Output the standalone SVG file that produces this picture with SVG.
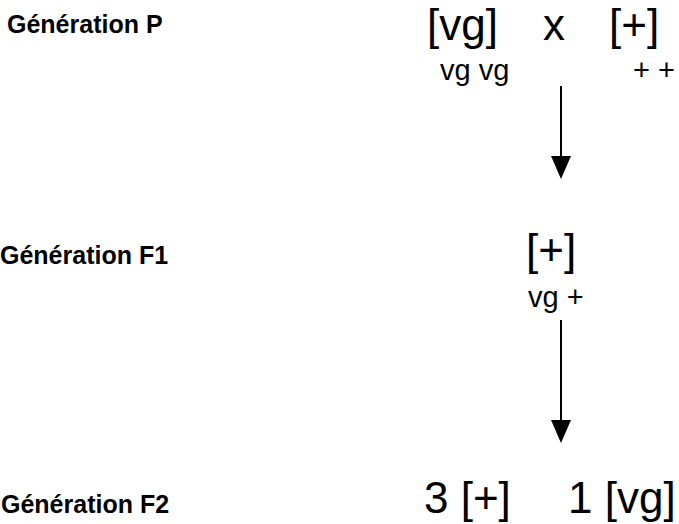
<svg xmlns="http://www.w3.org/2000/svg" width="679" height="524" viewBox="0 0 679 524">
<style>
.lbl{font-family:"Liberation Sans",Arial,sans-serif;font-weight:bold;font-size:25px;fill:#000}
.big{font-family:"Liberation Sans",Arial,sans-serif;font-size:44px;fill:#000}
.sm{font-family:"Liberation Sans",Arial,sans-serif;font-size:29px;fill:#000}
.conn{stroke:#000;stroke-width:2;fill:none}
</style>
<rect width="679" height="524" fill="#fff"/>
<g id="label-p"><text class="lbl" x="7" y="33">Génération P</text></g>
<g id="label-f1"><text class="lbl" x="0" y="264">Génération F1</text></g>
<g id="label-f2"><text class="lbl" x="1" y="513">Génération F2</text></g>
<g id="gen-p">
<text class="big" x="427" y="40">[vg]</text>
<text class="big" x="543" y="40">x</text>
<text class="big" x="609" y="40">[+]</text>
<text class="sm" x="440" y="80">vg vg</text>
<text class="sm" x="633" y="80">+ +</text>
</g>
<g id="gen-f1">
<text class="big" x="526" y="265" font-size="46">[+]</text>
<text class="sm" x="528" y="307">vg +</text>
</g>
<g id="gen-f2">
<text class="big" x="424" y="513">3 [+]</text>
<text class="big" x="568" y="513">1 [vg]</text>
</g>
<g id="connectors">
<line class="conn" x1="561" y1="86" x2="561" y2="158"/>
<path d="M551,156 L571,156 L561,179 Z" fill="#000"/>
<line class="conn" x1="561" y1="320" x2="561" y2="422"/>
<path d="M551,420 L571,420 L561,443 Z" fill="#000"/>
</g>
</svg>
